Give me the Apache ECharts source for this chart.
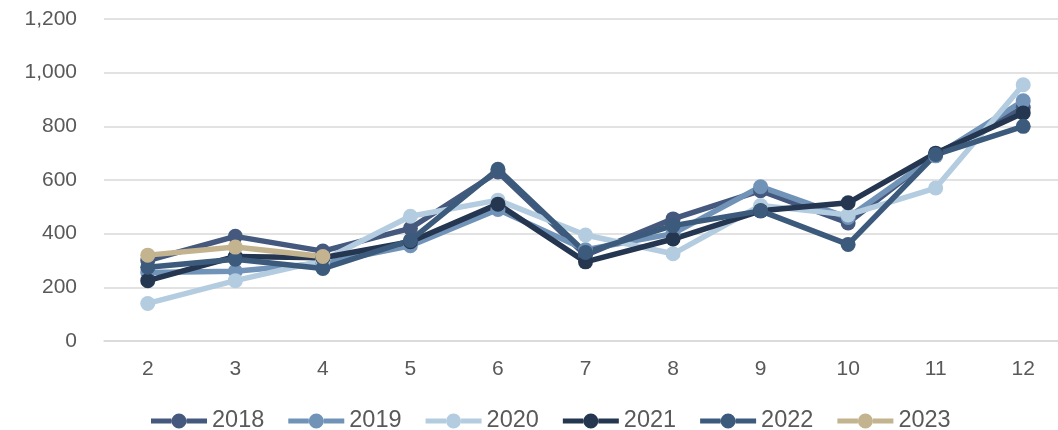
<!DOCTYPE html>
<html><head><meta charset="utf-8">
<script src="https://cdn.jsdelivr.net/npm/echarts@6/dist/echarts.min.js"></script>
<style>html,body{margin:0;padding:0;background:#fff;overflow:hidden}#c{width:1067px;height:430px}</style>
</head><body><div id="c"></div>
<script>
const categories = ['2','3','4','5','6','7','8','9','10','11','12'];
const y2018 = [300, 390, 335, 420, 630, 320, 455, 560, 440, 695, 870];
const y2019 = [255, 260, 290, 355, 490, 340, 400, 575, 460, 690, 895];
const y2020 = [140, 225, 300, 465, 525, 395, 325, 505, 470, 570, 955];
const y2021 = [225, 315, 310, 370, 510, 295, 380, 485, 515, 700, 850];
const y2022 = [275, 305, 270, 375, 640, 330, 430, 485, 360, 695, 800];
const y2023 = [320, 350, 315];
const seriesNames = ['2018','2019','2020','2021','2022','2023'];
const seriesData = [y2018, y2019, y2020, y2021, y2022, y2023];
const colors = ['#44597d','#7193b8','#b4cce0','#253650','#3c5a7b','#c4b38f'];

const font = 'Liberation Sans, Arial, sans-serif';
const chart = echarts.init(document.getElementById('c'), null, {renderer:'canvas'});
chart.setOption({
  animation:false,
  color: colors,
  grid:{left:104, top:19, bottom:89, right:0, containLabel:false},
  legend:{
    top:404, left:146, itemWidth:56, itemHeight:15, itemGap:24,
    icon:'path://M0,5 L20.5,5 L20.5,10 L0,10 Z M35.5,5 L56,5 L56,10 L35.5,10 Z M20.5,7.5 A7.5,7.5 0 1,1 35.5,7.5 A7.5,7.5 0 1,1 20.5,7.5 Z',
    textStyle:{color:'#595959', fontSize:23.5, fontFamily:font},
    data: seriesNames
  },
  xAxis:{
    type:'category', data:categories, boundaryGap:true,
    axisLine:{lineStyle:{color:'#d9d9d9', width:1.5}},
    axisTick:{show:false},
    axisLabel:{color:'#595959', fontSize:21, fontFamily:font, margin:18}
  },
  yAxis:{
    type:'value', min:0, max:1200, interval:200,
    axisLine:{show:false}, axisTick:{show:false},
    splitLine:{lineStyle:{color:'#d9d9d9', width:1.5}},
    axisLabel:{color:'#595959', fontSize:21, fontFamily:font, margin:27,
      formatter:v=>v.toLocaleString('en-US')}
  },
  series: seriesNames.map((n,i)=>({
    name:n, type:'line', data:seriesData[i],
    symbol:'circle', symbolSize:15,
    lineStyle:{width:5.5, color:colors[i]},
    itemStyle:{color:colors[i]}
  }))
});
</script></body></html>
